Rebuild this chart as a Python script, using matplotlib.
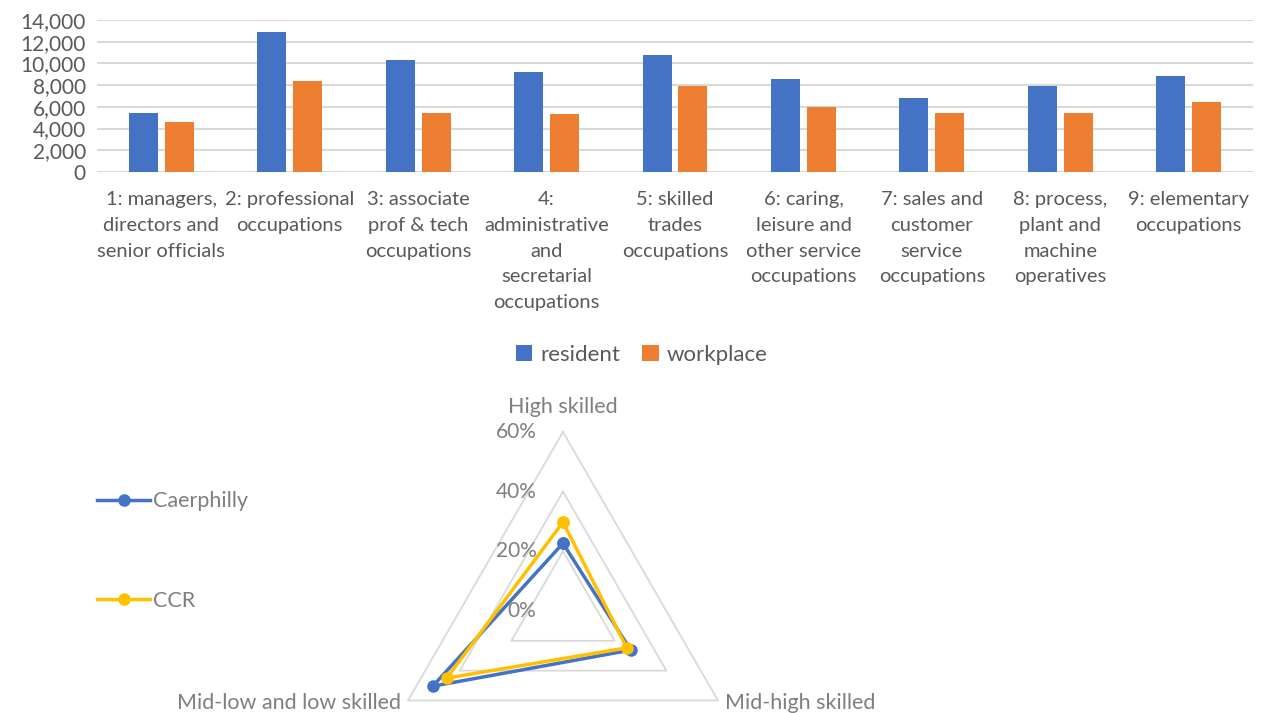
import numpy as np
import matplotlib
matplotlib.use("Agg")
import matplotlib.pyplot as plt
from matplotlib.ticker import FuncFormatter

plt.rcParams['font.family'] = ['Lato', 'DejaVu Sans']

occupations = ["1: managers,\ndirectors and\nsenior officials",
               "2: professional\noccupations",
               "3: associate\nprof & tech\noccupations",
               "4:\nadministrative\nand\nsecretarial\noccupations",
               "5: skilled\ntrades\noccupations",
               "6: caring,\nleisure and\nother service\noccupations",
               "7: sales and\ncustomer\nservice\noccupations",
               "8: process,\nplant and\nmachine\noperatives",
               "9: elementary\noccupations"]
resident = [5430, 12860, 10340, 9240, 10810, 8600, 6840, 7950, 8840]
workplace = [4630, 8380, 5430, 5340, 7950, 6020, 5430, 5430, 6450]

skill_levels = ["High skilled", "Mid-high skilled", "Mid-low and low skilled"]
caerphilly = [0.227, 0.262, 0.504]
ccr = [0.298, 0.247, 0.450]

W, H = 1263, 713
fig = plt.figure(figsize=(W / 100, H / 100), dpi=100)

# ---- bar chart ----
ax = fig.add_axes([97 / W, 1 - 172 / H, (1253 - 97) / W, 152 / H])
x = np.arange(len(occupations))
bw = 0.226
ax.bar(x - 0.14, resident, bw, color='#4472C4', label='resident', zorder=3)
ax.bar(x + 0.14, workplace, bw, color='#ED7D31', label='workplace', zorder=3)
ax.set_xlim(-0.5, len(occupations) - 0.5)
ax.set_ylim(0, 14000)
ax.set_yticks(range(0, 14001, 2000))
ax.yaxis.set_major_formatter(FuncFormatter(lambda v, p: f"{int(v):,}"))
ax.grid(axis='y', color='#d9d9d9', linewidth=1.5, zorder=0)
for s in ax.spines.values():
    s.set_visible(False)
ax.tick_params(length=0, labelsize=15, labelcolor='#595959')
ax.tick_params(axis='y', pad=8)
ax.set_xticks(x)
ax.set_xticklabels(occupations, linespacing=1.62, fontsize=14.5)
ax.tick_params(axis='x', pad=14)
ax.legend(loc='center', bbox_to_anchor=((641.5 - 97) / 1156, -(355 - 172) / 152),
          ncol=2, frameon=False, fontsize=16, handlelength=0.75, handleheight=0.75,
          columnspacing=1.0, handletextpad=0.35, labelcolor='#595959')

# ---- radar chart ----
cx, cy, R = 563, 611, 179
rax = fig.add_axes([(cx - R) / W, 1 - (cy + R) / H, 2 * R / W, 2 * R / H], polar=True)
rax.set_theta_offset(np.pi / 2)
rax.set_theta_direction(-1)
angles = np.linspace(0, 2 * np.pi, len(skill_levels), endpoint=False)
rax.set_ylim(0, 0.6)
rax.grid(False)
rax.spines['polar'].set_visible(False)
rax.set_xticks([])
rax.set_yticks([])
rax.patch.set_alpha(0)

ang_closed = np.append(angles, angles[0])
for ring in [0.2, 0.4, 0.6]:
    rax.plot(ang_closed, [ring] * 4, color='#d9d9d9', linewidth=1.3, zorder=1, clip_on=False)
for ring in [0.0, 0.2, 0.4, 0.6]:
    rax.annotate(f"{int(ring * 100)}%", (0, ring), xytext=(-19, 0), textcoords='offset points',
                 ha='right', va='center', fontsize=15, color='#7f7f7f', annotation_clip=False)

rax.plot(ang_closed, caerphilly + caerphilly[:1], color='#4472C4', linewidth=2.5,
         marker='o', markersize=8, label='Caerphilly', zorder=3, clip_on=False)
rax.plot(ang_closed, ccr + ccr[:1], color='#FFC000', linewidth=2.5,
         marker='o', markersize=8, label='CCR', zorder=4, clip_on=False)

rax.annotate(skill_levels[0], (angles[0], 0.6), xytext=(0, 18), textcoords='offset points',
             ha='center', va='center', fontsize=15.5, color='#7f7f7f', annotation_clip=False)
rax.annotate(skill_levels[1], (angles[1], 0.6), xytext=(5, -2), textcoords='offset points',
             ha='left', va='center', fontsize=15.5, color='#7f7f7f', annotation_clip=False)
rax.annotate(skill_levels[2], (angles[2], 0.6), xytext=(-5, -2), textcoords='offset points',
             ha='right', va='center', fontsize=15.5, color='#7f7f7f', annotation_clip=False)

handles, labels = rax.get_legend_handles_labels()
fig.legend(handles, labels, loc='upper left', bbox_to_anchor=(78 / W, 1 - 472 / H),
           frameon=False, fontsize=15.5, labelspacing=3.7, handlelength=2.45,
           handletextpad=0.15, labelcolor='#7f7f7f')

fig.savefig("out.png", dpi=100)
